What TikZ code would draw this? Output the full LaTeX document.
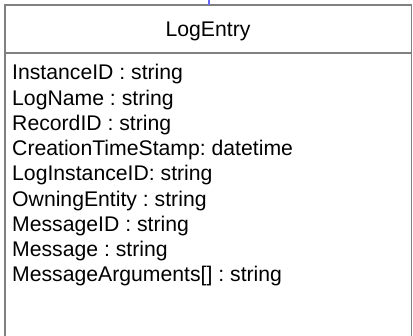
\documentclass[tikz,border=0pt]{standalone}
\usepackage{fontspec}
\setmainfont{Liberation Sans}
\frenchspacing
\begin{document}
\begin{tikzpicture}[x=1pt,y=-1pt,
  boxline/.style={draw=black!50, line width=1.5pt},
  link/.style={draw=blue!60, line width=1.5pt},
  attr/.style={anchor=base west, inner sep=0pt, font=\fontsize{21.2}{24}\selectfont},
  title/.style={anchor=base, inner sep=0pt, font=\fontsize{21.2}{24}\selectfont}]
\useasboundingbox (0,0) rectangle (413,336);
\begin{scope}
\clip (0,0) rectangle (413,336);
\path[boxline] (5,5) rectangle (411.5,345);
\end{scope}
\coordinate (boxtop) at (209,5);
\coordinate (linkend) at (209,0);
\path[link] (boxtop) -- (linkend);
\path[boxline] (5,53) -- (411.5,53);
\node[title] (name) at (208,37) {LogEntry};
\node[attr] (a1) at (12,80) {InstanceID : string};
\node[attr] (a2) at (12,105.25) {LogName : string};
\node[attr] (a3) at (12,130.5) {RecordID : string};
\node[attr] (a4) at (12,155.75) {CreationTimeStamp: datetime};
\node[attr] (a5) at (12,181) {LogInstanceID: string};
\node[attr] (a6) at (12,206.25) {OwningEntity : string};
\node[attr] (a7) at (12,231.5) {MessageID : string};
\node[attr] (a8) at (12,256.75) {Message : string};
\node[attr] (a9) at (12,282) {MessageArguments[] : string};
\end{tikzpicture}
\end{document}
